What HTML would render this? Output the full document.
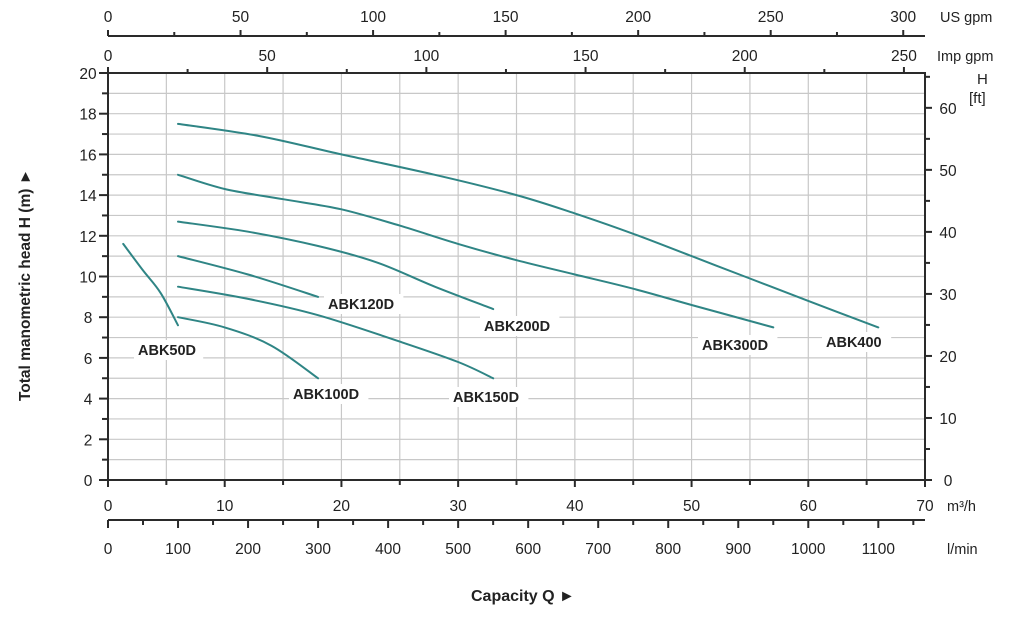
<!DOCTYPE html>
<html><head><meta charset="utf-8"><style>
body{margin:0;background:#fff}
text{font-family:"Liberation Sans",Arial,sans-serif;fill:#222}
</style></head><body>
<svg id="s" width="1024" height="612" viewBox="0 0 1024 612" xmlns="http://www.w3.org/2000/svg">
<g id="grid" stroke="#c8c8c8" stroke-width="1.2"></g>
<g id="curves" fill="none" stroke="#2f8585" stroke-width="2" stroke-linecap="round"></g>
<g id="ax" stroke="#2a2a2a" stroke-width="2" fill="none"></g>
<g id="lbl" font-size="15.5" text-anchor="middle"></g>
<g font-size="14.5" font-weight="bold" id="names"></g>
<text x="30" y="285" font-size="15.5" font-weight="bold" text-anchor="middle" transform="rotate(-90 30 285)">Total manometric head H (m)  ►</text>
<text x="471" y="601" font-size="16" font-weight="bold">Capacity Q  ►</text>
<text x="940" y="22" font-size="14.5">US gpm</text>
<text x="937" y="61" font-size="14.5">Imp gpm</text>
<text x="977" y="84" font-size="15">H</text>
<text x="969" y="103" font-size="15">[ft]</text>
<text x="947" y="511" font-size="14.5">m³/h</text>
<text x="947" y="554" font-size="14.5">l/min</text>
</svg>
<script>
const X=q=>108+q*817/70, Y=h=>480-h*407/20;
const NS="http://www.w3.org/2000/svg";
function el(p,t,a,txt){const e=document.createElementNS(NS,t);for(const k in a)e.setAttribute(k,a[k]);if(txt!==undefined)e.textContent=txt;document.getElementById(p).appendChild(e);return e;}
function L(p,x1,y1,x2,y2,w){el(p,'line',{x1,y1,x2,y2,'stroke-width':w||2});}
for(let q=5;q<70;q+=5)L('grid',X(q),73,X(q),480,1.2);
for(let h=1;h<20;h++)L('grid',108,Y(h),925,Y(h),1.2);
el('ax','path',{d:`M108 73 H925 V480 H108 Z`});
for(let h=0;h<=20;h++){L('ax',h%2?102:99,Y(h),108,Y(h));}
for(let h=0;h<=20;h+=2)el('lbl','text',{x:88,y:Y(h)+6},h);
for(let f=0;f<=65;f+=5){const y=480-f*0.3048*407/20;L('ax',925,y,f%10?930:932,y);}
for(let f=0;f<=60;f+=10){const y=480-f*0.3048*407/20;el('lbl','text',{x:948,y:y+6},f);}
for(let q=0;q<=70;q+=5)L('ax',X(q),480,X(q),q%10?485:487);
for(let q=0;q<=70;q+=10)el('lbl','text',{x:X(q),y:511},q);
L('ax',108,520,925,520);
for(let l=0;l<=1150;l+=50){const x=X(l*0.06);L('ax',x,520,x,l%100?525:528);}
for(let l=0;l<=1100;l+=100)el('lbl','text',{x:X(l*0.06),y:554},l);
L('ax',108,36,925,36);
for(let g=0;g<=300;g+=25){const x=X(g/4.403);L('ax',x,36,x,g%50?32:30);}
for(let g=0;g<=300;g+=50)el('lbl','text',{x:X(g/4.403),y:22},g);
for(let g=0;g<=250;g+=25){const x=X(g/3.666);L('ax',x,73,x,g%50?69:67);}
for(let g=0;g<=250;g+=50)el('lbl','text',{x:X(g/3.666),y:61},g);
const C=[
[[6,17.5],[13,16.9],[20,16.0],[28,15.0],[35,14.0],[40,13.1],[45,12.1],[50,11.0],[55,9.9],[60,8.8],[66,7.5]],
[[6,15],[10,14.3],[15,13.8],[20,13.3],[25,12.5],[30,11.6],[35,10.8],[40,10.1],[45,9.4],[50,8.6],[57,7.5]],
[[6,12.7],[12,12.2],[18,11.5],[23,10.7],[28,9.5],[33,8.4]],
[[6,11],[12,10.1],[18,9.0]],
[[6,9.5],[12,8.9],[18,8.1],[25,6.8],[30,5.8],[33,5.0]],
[[6,8],[10,7.5],[14,6.6],[18,5.0]],
[[1.3,11.6],[3,10.3],[4.5,9.2],[6,7.6]]];
for(const c of C){
  const P=c.map(p=>[X(p[0]),Y(p[1])]);
  let d='M'+P[0][0].toFixed(1)+' '+P[0][1].toFixed(1);
  for(let i=0;i<P.length-1;i++){
    const p0=P[Math.max(0,i-1)],p1=P[i],p2=P[i+1],p3=P[Math.min(P.length-1,i+2)];
    const c1=[p1[0]+(p2[0]-p0[0])/6,p1[1]+(p2[1]-p0[1])/6];
    const c2=[p2[0]-(p3[0]-p1[0])/6,p2[1]-(p3[1]-p1[1])/6];
    d+=` C${c1[0].toFixed(1)} ${c1[1].toFixed(1)} ${c2[0].toFixed(1)} ${c2[1].toFixed(1)} ${p2[0].toFixed(1)} ${p2[1].toFixed(1)}`;
  }
  el('curves','path',{d});
}
const N=[['ABK50D',138,355],['ABK100D',293,399],['ABK120D',328,309],['ABK150D',453,402],['ABK200D',484,331],['ABK300D',702,350],['ABK400',826,347]];
for(const n of N){el('names','rect',{x:n[1]-4,y:n[2]-15,width:n[0].length*10.2+8,height:20,fill:'#fff'});el('names','text',{x:n[1],y:n[2]},n[0]);}
</script>
</body></html>
